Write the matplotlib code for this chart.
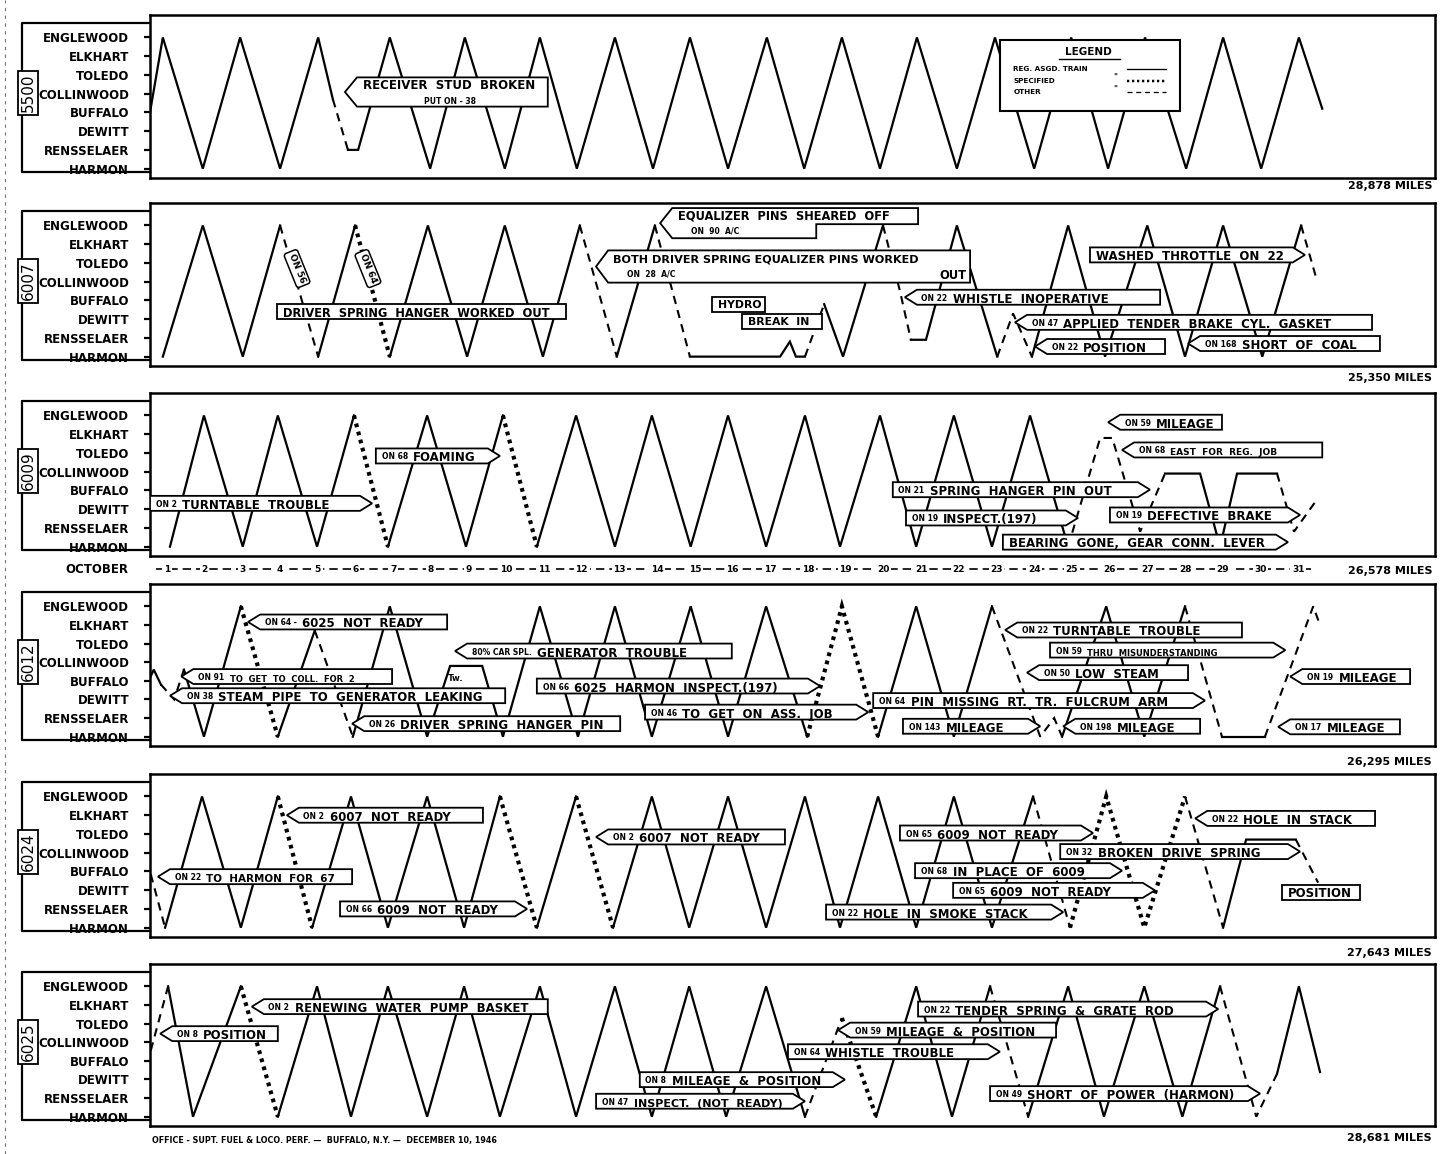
import matplotlib
matplotlib.use("Agg")
import matplotlib.pyplot as plt
from matplotlib.patches import Polygon, Rectangle

plt.rcParams['font.family'] = ['DejaVu Sans']
plt.rcParams['font.weight'] = 'bold'

W, H = 1445, 1154

stations = ["ENGLEWOOD", "ELKHART", "TOLEDO", "COLLINWOOD",
            "BUFFALO", "DEWITT", "RENSSELAER", "HARMON"]
october_days = list(range(1, 32))
locos = ["5500", "6007", "6009", "6012", "6024", "6025"]
miles = ["28,878 MILES", "25,350 MILES", "26,578 MILES",
         "26,295 MILES", "27,643 MILES", "28,681 MILES"]

# route of each engine: day of month, station index (0 = Englewood ... 7 = Harmon),
# and one style letter per leg: s = reg. asgd. train, o = specified, d = other
d_5500 = [0.55, 0.89, 1.95, 2.94, 4.00, 5.01, 5.40, 5.80, 6.07, 6.91, 7.98, 8.90,
          9.96, 10.89, 11.87, 12.88, 13.89, 14.87, 15.88, 16.91, 17.90, 18.90,
          19.91, 20.89, 21.95, 22.96, 24.00, 24.98, 25.96, 26.94, 28.03, 29.01,
          30.02, 31.02, 31.64]
s_5500 = [4, 0, 7, 0, 7, 0, 3.3, 6, 6, 0, 7, 0, 7, 0, 7, 0, 7, 0, 7, 0, 7, 0, 7,
          0, 7, 0, 7, 0, 7, 0, 7, 0, 7, 0, 3.8]
k_5500 = "ssssss" + "d" + "s" * 27

d_6007 = [0.89, 1.95, 3.01, 4.00, 5.01, 5.99, 6.91, 7.92, 8.96, 9.96, 10.97, 11.95,
          12.93, 13.94, 14.87, 17.26, 17.52, 17.68, 17.92, 18.43, 18.93, 19.99,
          20.44, 20.73, 21.13, 21.95, 23.02, 23.44, 23.94, 24.90, 25.88, 27.00,
          28.00, 29.01, 30.05, 31.08, 31.48]
s_6007 = [7, 0, 7, 0, 7, 0, 7, 0, 7, 0, 7, 0, 7, 0, 7, 7, 6.2, 7, 7, 4.2, 7, 0,
          3.5, 6.1, 6.1, 0, 7, 4.7, 7, 0, 7, 0, 7, 0, 7, 0, 2.8]
k_6007 = "sssdsosssssdsdssssdssddsssddsssssssd"

d_6009 = [1.08, 1.98, 3.01, 3.94, 4.98, 5.96, 6.86, 7.90, 8.93, 9.91, 10.81, 11.85,
          12.88, 13.86, 14.89, 15.88, 16.89, 17.92, 18.85, 19.91, 20.87, 21.87,
          22.88, 23.89, 24.90, 25.75, 26.07, 26.81, 27.47, 28.40, 28.93, 29.38,
          30.44, 30.89, 31.53]
s_6009 = [7, 0, 7, 0, 7, 0, 7, 0, 7, 0, 7, 0, 7, 0, 7, 0, 7, 0, 7, 0, 7, 0, 7, 0,
          7, 1.2, 1.2, 6.2, 3.1, 3.1, 7, 3.1, 3.1, 6.2, 4.4]
k_6009 = "sssss" + "o" + "sss" + "o" + "s" * 14 + "dddd" + "ssss" + "dd"

d_6012 = [0.47, 0.65, 0.84, 1.19, 1.45, 1.98, 2.96, 3.94, 4.92, 5.93, 6.91, 7.90,
          8.51, 9.36, 9.91, 10.89, 11.90, 12.88, 13.86, 14.89, 15.88, 16.89, 17.98,
          18.90, 19.86, 20.87, 21.87, 22.88, 24.16, 24.53, 24.74, 25.91, 26.92,
          28.00, 28.98, 30.12, 31.40, 31.58]
s_6012 = [4.2, 3.4, 4.2, 5.0, 3.4, 7, 0, 7, 1.3, 7, 0, 7, 3.2, 3.2, 7, 0, 7, 0, 7,
          0, 7, 0, 7, 0, 7, 0, 7, 0, 7, 6, 7, 0, 7, 0, 7, 7, 0, 1.0]
k_6012 = "ss" + "dd" + "ss" + "o" + "s" + "d" + "s" * 13 + "oo" + "sss" + "ddd" + "sss" + "d" + "s" + "dd"

d_6024 = [0.47, 0.95, 1.93, 2.96, 3.94, 4.85, 5.88, 6.86, 7.90, 8.88, 9.83, 10.81,
          11.85, 12.83, 13.86, 14.85, 15.88, 16.89, 17.92, 18.85, 19.86, 20.87,
          21.87, 22.88, 23.97, 24.95, 25.91, 26.92, 28.00, 29.01, 29.62, 30.94, 31.53]
s_6024 = [3.4, 7, 0, 7, 0, 7, 0, 7, 0, 7, 0, 7, 0, 7, 0, 7, 0, 7, 0, 7, 0, 7, 0, 7,
          0, 7, 0, 7, 0, 7, 2.3, 2.3, 4.6]
k_6024 = "d" + "sss" + "o" + "sssss" + "o" + "s" + "o" + "s" * 11 + "d" + "ooo" + "d" + "ss" + "d"

d_6025 = [0.47, 1.03, 1.69, 2.96, 3.94, 4.98, 5.88, 6.86, 7.90, 8.88, 9.83, 10.89,
          11.85, 12.88, 13.86, 14.85, 15.83, 16.89, 17.92, 18.90, 19.81, 20.87,
          21.82, 22.83, 23.84, 24.90, 25.85, 26.92, 27.93, 28.93, 29.89, 30.44,
          31.02, 31.58]
s_6025 = [4.2, 0, 7, 0, 7, 0, 7, 0, 7, 0, 7, 0, 7, 0, 7, 0, 7, 0, 7, 1.7, 7, 0, 7,
          0, 7, 0, 7, 0, 7, 0, 7, 4.7, 0, 4.6]
k_6025 = "d" + "ss" + "o" + "s" * 14 + "d" + "o" + "sss" + "d" + "sssss" + "dd" + "ss"

routes = [(d_5500, s_5500, k_5500), (d_6007, s_6007, k_6007), (d_6009, s_6009, k_6009),
          (d_6012, s_6012, k_6012), (d_6024, s_6024, k_6024), (d_6025, s_6025, k_6025)]

# notes: from day, to day, station, pointer side, small prefix, text, size
tags_6007 = [
    (3.92, 11.58, 4.6, None, "", "DRIVER SPRING HANGER WORKED OUT", 8.3),
    (15.46, 16.86, 4.2, None, "", "HYDRO", 7.8),
    (16.25, 18.37, 5.12, None, "", "BREAK IN", 7.8),
    (20.57, 27.34, 3.83, 'l', "ON 22", "WHISTLE INOPERATIVE", 8.5),
    (25.48, 31.18, 1.57, 'r', "", "WASHED THROTTLE ON 22", 8.5),
    (23.49, 32.96, 5.17, 'l', "ON 47", "APPLIED TENDER BRAKE CYL. GASKET", 8.5),
    (24.02, 27.47, 6.46, 'l', "ON 22", "POSITION", 8.5),
    (28.08, 33.17, 6.30, 'l', "ON 168", "SHORT OF COAL", 8.5),
]
tags_6009 = [
    (0.55, 6.44, 4.69, 'r', "ON 2", "TURNTABLE TROUBLE", 8.5),
    (6.54, 9.83, 2.16, 'r', "ON 68", "FOAMING", 8.5),
    (25.96, 28.98, 0.36, 'l', "ON 59", "MILEAGE", 8.5),
    (26.33, 31.64, 1.84, 'l', "ON 68", "EAST FOR REG. JOB", 6.5),
    (20.25, 27.07, 3.96, 'r', "ON 21", "SPRING HANGER PIN OUT", 8.5),
    (20.60, 25.16, 5.47, 'r', "ON 19", "INSPECT.(197)", 8.5),
    (26.01, 31.05, 5.31, 'r', "ON 19", "DEFECTIVE BRAKE", 8.5),
    (23.17, 30.73, 6.76, 'r', "", "BEARING GONE, GEAR CONN. LEVER", 8.5),
]
tags_6012 = [
    (3.15, 8.43, 0.84, 'l', "ON 64 -", "6025 NOT READY", 8.5),
    (1.38, 6.97, 3.77, 'l', "ON 91", "TO GET TO COLL. FOR 2", 6.0),
    (1.08, 9.97, 4.80, 'l', "ON 38", "STEAM PIPE TO GENERATOR LEAKING", 8.5),
    (5.91, 13.02, 6.30, 'l', "ON 26", "DRIVER SPRING HANGER PIN", 8.5),
    (8.64, 15.98, 2.40, 'l', "80% CAR SPL.", "GENERATOR TROUBLE", 8.5),
    (10.81, 18.32, 4.28, 'r', "ON 66", "6025 HARMON INSPECT.(197)", 8.5),
    (13.68, 19.60, 5.68, 'r', "ON 46", "TO GET ON ASS. JOB", 8.5),
    (19.73, 28.53, 5.06, 'r', "ON 64", "PIN MISSING RT. TR. FULCRUM ARM", 8.5),
    (20.52, 24.16, 6.44, 'r', "ON 143", "MILEAGE", 8.5),
    (24.77, 28.40, 6.44, 'l', "ON 198", "MILEAGE", 8.5),
    (23.23, 29.51, 1.27, 'l', "ON 22", "TURNTABLE TROUBLE", 8.5),
    (24.42, 30.66, 2.35, 'r', "ON 59", "THRU MISUNDERSTANDING", 6.0),
    (23.81, 28.08, 3.56, 'l', "ON 50", "LOW STEAM", 8.5),
    (30.79, 33.97, 3.77, 'l', "ON 19", "MILEAGE", 8.5),
    (30.47, 33.70, 6.47, 'l', "ON 17", "MILEAGE", 8.5),
]
tags_6024 = [
    (0.76, 5.91, 4.28, 'l', "ON 22", "TO HARMON FOR 67", 7.5),
    (4.18, 9.38, 1.00, 'l', "ON 2", "6007 NOT READY", 8.5),
    (5.59, 10.55, 6.00, 'r', "ON 66", "6009 NOT READY", 8.5),
    (12.38, 17.39, 2.16, 'l', "ON 2", "6007 NOT READY", 8.5),
    (20.44, 25.56, 1.95, 'r', "ON 65", "6009 NOT READY", 8.5),
    (20.84, 26.33, 3.96, 'r', "ON 68", "IN PLACE OF 6009", 8.5),
    (21.85, 27.20, 5.01, 'r', "ON 65", "6009 NOT READY", 8.5),
    (18.48, 24.77, 6.17, 'r', "ON 22", "HOLE IN SMOKE STACK", 8.5),
    (24.69, 31.05, 2.94, 'r', "ON 32", "BROKEN DRIVE SPRING", 8.5),
    (28.27, 33.04, 1.17, 'l', "ON 22", "HOLE IN STACK", 8.5),
    (30.58, 32.64, 5.12, None, "", "POSITION", 8.5),
]
tags_6025 = [
    (0.82, 3.94, 2.54, 'l', "ON 8", "POSITION", 8.5),
    (3.25, 11.10, 1.09, 'l', "ON 2", "RENEWING WATER PUMP BASKET", 8.5),
    (13.54, 18.98, 5.01, 'r', "ON 8", "MILEAGE & POSITION", 8.5),
    (12.38, 17.92, 6.17, 'r', "ON 47", "INSPECT. (NOT READY)", 8.0),
    (17.47, 23.09, 3.51, 'r', "ON 64", "WHISTLE TROUBLE", 8.5),
    (18.80, 24.58, 2.35, 'l', "ON 59", "MILEAGE & POSITION", 8.5),
    (20.92, 28.88, 1.22, 'r', "ON 22", "TENDER SPRING & GRATE ROD", 8.5),
    (22.83, 29.99, 5.76, 'r', "ON 49", "SHORT OF POWER (HARMON)", 8.5),
]
all_tags = [[], tags_6007, tags_6009, tags_6012, tags_6024, tags_6025]

STY = {'s': dict(ls='-', lw=1.6),
       'd': dict(ls=(0, (4, 3)), lw=1.5),
       'o': dict(ls=(0, (0.9, 1.1)), lw=3.0)}

tops = [15, 203, 393, 584, 774, 964]
bots = [178, 366, 556, 746, 937, 1126]
XL = (0.55, 34.63)
TIP = 0.32


def fx(x):
    return x / W


def fy(y):
    return 1 - y / H


def draw_route(ax, d, s, k):
    i = 0
    while i < len(k):
        j = i
        while j + 1 < len(k) and k[j + 1] == k[i]:
            j += 1
        ax.plot(d[i:j + 2], s[i:j + 2], color='black', zorder=2,
                solid_joinstyle='miter', dash_joinstyle='miter', **STY[k[i]])
        i = j + 1


def tag(ax, x0, x1, y, side, prefix, text, fs, h=0.8):
    text = text.replace(" ", "  ")
    if side == 'l':
        pts = [(x0, y), (x0 + TIP, y - h / 2), (x1, y - h / 2), (x1, y + h / 2), (x0 + TIP, y + h / 2)]
        tx = x0 + TIP + 0.12
    elif side == 'r':
        pts = [(x0, y - h / 2), (x1 - TIP, y - h / 2), (x1, y), (x1 - TIP, y + h / 2), (x0, y + h / 2)]
        tx = x0 + 0.15
    else:
        pts = [(x0, y - h / 2), (x1, y - h / 2), (x1, y + h / 2), (x0, y + h / 2)]
        tx = x0 + 0.15
    ax.add_patch(Polygon(pts, closed=True, fc='white', ec='black', lw=1.3, zorder=3))
    if prefix:
        p = ax.text(tx, y, prefix, fontsize=5.5, va='center_baseline', ha='left', zorder=4)
        ax.annotate(text, xy=(1, 0), xycoords=p, xytext=(4, 0), textcoords='offset points',
                    fontsize=fs, va='baseline', ha='left', zorder=4)
    else:
        ax.text(tx, y, text, fontsize=fs, va='center_baseline', ha='left', zorder=4)


fig = plt.figure(figsize=(W / 100, H / 100), dpi=100)

# faint paper edge
fig.add_artist(plt.Line2D([fx(5), fx(5)], [0, 1], color='0.45', lw=0.8, ls=(0, (3, 4))))

axes = []
for n, (top, bot) in enumerate(zip(tops, bots)):
    ax = fig.add_axes([fx(150), fy(bot), (1435 - 150) / W, (bot - top) / H])
    ax.set_xlim(*XL)
    ax.set_ylim(7.5, -1.2)
    ax.set_xticks([])
    ax.set_yticks(range(8))
    ax.set_yticklabels(stations, fontsize=8.5)
    ax.tick_params(axis='y', length=4, width=1.6, pad=11, direction='out')
    for sp in ax.spines.values():
        sp.set_linewidth(1.8)
    d, s, k = routes[n]
    draw_route(ax, d, s, k)
    for t in all_tags[n]:
        tag(ax, *t)
    axes.append(ax)

    # label block on the left
    fig.add_artist(plt.Line2D([fx(150), fx(22), fx(22), fx(150)],
                              [fy(top + 8), fy(top + 8), fy(bot - 6), fy(bot - 6)],
                              color='black', lw=1.6))
    fig.text(fx(28), fy(top + 78), locos[n], rotation=90, ha='center', va='center',
             fontsize=11, fontweight='normal',
             bbox=dict(boxstyle='square,pad=0.15', fc='white', ec='black', lw=1.3))

# mileage totals
mile_y = [186, 378, 571, 762, 953, 1138]
for m, y in zip(miles, mile_y):
    fig.text(fx(1432), fy(y), m, ha='right', va='center', fontsize=8)

# 5500 note and legend
ax = axes[0]
x0, x1, yc, h = 5.72, 11.10, 2.91, 1.56
ax.add_patch(Polygon([(x0, yc), (x0 + TIP, yc - h / 2), (x1, yc - h / 2), (x1, yc + h / 2),
                      (x0 + TIP, yc + h / 2)], closed=True, fc='white', ec='black', lw=1.3, zorder=3))
ax.text(x0 + TIP + 0.15, 2.55, "RECEIVER  STUD  BROKEN", fontsize=8.5, va='center', zorder=4)
ax.text(8.5, 3.4, "PUT ON - 38", fontsize=5.5, va='center', ha='center', zorder=4)

ax.add_patch(Rectangle((23.09, 0.15), 27.87 - 23.09, 3.9 - 0.15, fc='white', ec='black',
                       lw=1.5, zorder=5))
ax.text(25.45, 0.75, "LEGEND", fontsize=7.5, ha='center', va='center', zorder=6)
ax.plot([24.65, 26.28], [1.15, 1.15], color='black', lw=1.0, zorder=6)
leg_rows = [("REG. ASGD. TRAIN", 's', 1.7), ("SPECIFIED", 'o', 2.3), ("OTHER", 'd', 2.9)]
for lab, k, y in leg_rows:
    ax.text(23.45, y, lab, fontsize=5.2, va='center', zorder=6)
    if k != 's':
        ax.text(26.1, y - 0.15, '"', fontsize=5.5, va='center', zorder=6)
    st = dict(STY[k])
    st['lw'] = st['lw'] * 0.6
    ax.plot([26.45, 27.5], [y, y], color='black', zorder=6, **st)

# 6007 two-line notes
ax = axes[1]
x0, xs, x1, ytop, ystep, ybot = 14.08, 18.22, 20.92, -0.93, -0.07, 0.68
ax.add_patch(Polygon([(x0, (ytop + ybot) / 2), (x0 + TIP, ytop), (x1, ytop), (x1, ystep),
                      (xs, ystep), (xs, ybot), (x0 + TIP, ybot)], closed=True,
                     fc='white', ec='black', lw=1.3, zorder=3))
ax.text(x0 + TIP + 0.15, -0.5, "EQUALIZER  PINS  SHEARED  OFF", fontsize=8.3, va='center', zorder=4)
ax.text(14.9, 0.3, "ON  90  A/C", fontsize=5.5, va='center', zorder=4)

x0, x1, ytop, ybot = 12.38, 22.30, 1.33, 3.05
ax.add_patch(Polygon([(x0, (ytop + ybot) / 2), (x0 + TIP, ytop), (x1, ytop), (x1, ybot),
                      (x0 + TIP, ybot)], closed=True, fc='white', ec='black', lw=1.3, zorder=3))
ax.text(x0 + TIP + 0.12, 1.8, "BOTH DRIVER SPRING EQUALIZER PINS WORKED", fontsize=8.1,
        va='center', zorder=4)
ax.text(13.2, 2.6, "ON  28  A/C", fontsize=5.5, va='center', zorder=4)
ax.text(x1 - 0.1, 2.65, "OUT", fontsize=8.3, va='center', ha='right', zorder=4)
for xr, lab in [(4.45, "ON 56"), (6.33, "ON 64")]:
    ax.text(xr, 2.3, lab, fontsize=6.5, rotation=-68, ha='center', va='center', zorder=4,
            bbox=dict(boxstyle='round,pad=0.3', fc='white', ec='black', lw=1.1))

# small mark in 6012
axes[3].text(8.45, 3.85, "Tw.", fontsize=6, va='center', zorder=4)

# October day scale
axo = fig.add_axes([fx(150), fy(579), (1435 - 150) / W, 20 / H])
axo.set_xlim(*XL)
axo.set_ylim(-1, 1)
axo.axis('off')
axo.plot([0.7, 31.45], [0, 0], color='black', lw=1.2, ls=(0, (5, 3)))
for dd in october_days:
    axo.text(dd, 0, str(dd), ha='center', va='center', fontsize=6.5,
             bbox=dict(fc='white', ec='none', pad=1.2))
fig.text(fx(128), fy(569), "OCTOBER", ha='right', va='center', fontsize=8.5)

fig.text(fx(152), fy(1141), "OFFICE - SUPT. FUEL & LOCO. PERF. \u2014  BUFFALO, N.Y. \u2014  DECEMBER 10, 1946",
         ha='left', va='center', fontsize=5.8)

fig.savefig("out.png", dpi=100)
